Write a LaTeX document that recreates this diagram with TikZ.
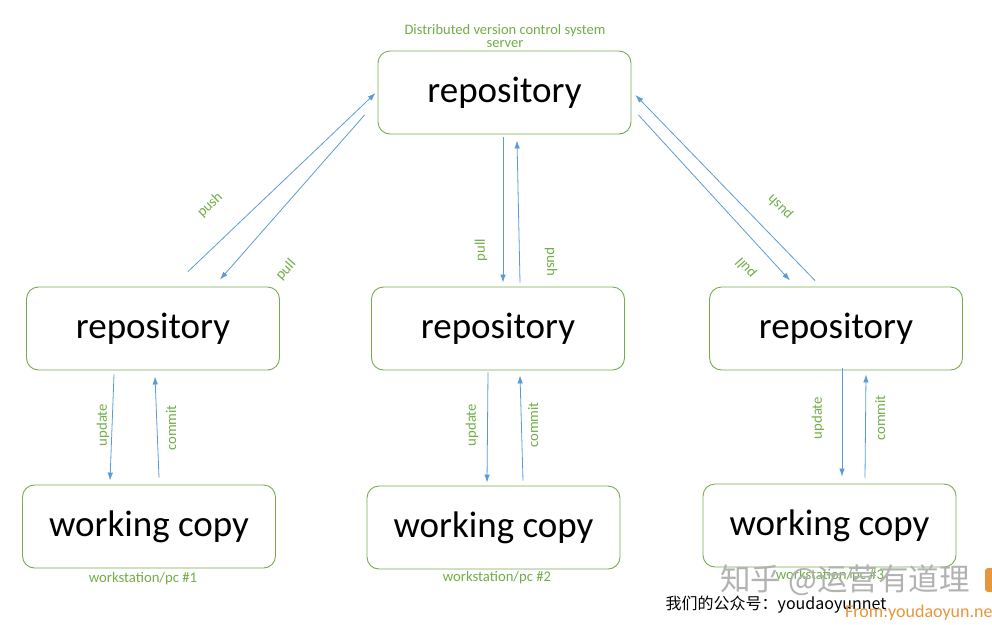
\documentclass[tikz,border=0pt]{standalone}
\usepackage{fontspec}
\setmainfont{Carlito}
\newfontfamily\cjkfont{Noto Sans CJK SC}
\usetikzlibrary{arrows.meta,calc}
\definecolor{boxgreen}{RGB}{120,170,80}
\definecolor{lblgreen}{RGB}{112,173,71}
\definecolor{arrblue}{RGB}{91,155,213}
\definecolor{wmorange}{RGB}{230,150,60}
\tikzset{
  box/.style={draw=boxgreen, line width=0.9pt, rounded corners=12pt, minimum width=253pt, minimum height=83pt, inner sep=0pt, text height=26pt, text depth=6pt, font=\fontsize{37}{40}\selectfont},
  lbl/.style={text=lblgreen, font=\fontsize{14.7}{15}\selectfont, inner sep=0pt},
  arr/.style={draw=arrblue, line width=0.8pt, -{Latex[length=8pt,width=5.5pt]}}
}
\begin{document}
\begin{tikzpicture}[x=1pt,y=-1pt]
\useasboundingbox (0,0) rectangle (992,624);
% boxes
\node[box] (T) at (504.5,92.5) {repository};
\node[box] (L) at (153,328.5) {repository};
\node[box] (M) at (498,328.5) {repository};
\node[box] (R) at (836,328.5) {repository};
\node[box] (LW) at (149,526.5) {working copy};
\node[box] (MW) at (493.5,527.5) {working copy};
\node[box] (RW) at (829.5,525.5) {working copy};
% captions
\node[lbl, align=center, font=\fontsize{14.5}{13}\selectfont] (cap) at (505,36) {Distributed version control system\\server};
\node[lbl] (w1) at (143,579) {workstation/pc \#1};
\node[lbl] (w2) at (497,578) {workstation/pc \#2};
\node[lbl] (w3) at (830,576) {workstation/pc \#3};
% top <-> left
\draw[arr] ($(L.north)+(35,-15)$) -- ($(T.west)+(-2,0.5)$);
\draw[arr] ($(T.west)+(-13,22.5)$) -- ($(L.north)+(67,-7)$);
\node[lbl, rotate=44] (lpush) at (210,205) {push};
\node[lbl, rotate=48] (lpull) at (286,270) {pull};
% top <-> middle
\draw[arr] ($(T.south)+(-1.5,3)$) -- ($(M.north)+(5,-4)$);
\draw[arr] ($(M.north)+(22,-4)$) -- ($(T.south)+(12.5,6)$);
\node[lbl, rotate=90] (mpull) at (481,250) {pull};
\node[lbl, rotate=-90] (mpush) at (551,262) {push};
% top <-> right
\draw[arr] ($(R.north)+(-21,-6)$) -- ($(T.east)+(4,2.5)$);
\draw[arr] ($(T.east)+(7,22.5)$) -- ($(R.north)+(-46,-6)$);
\node[lbl, rotate=134] (rpush) at (780,207) {push};
\node[lbl, rotate=132] (rpull) at (746,268) {pull};
% left update/commit
\draw[arr] ($(L.south)+(-39,4)$) -- ($(LW.north)+(-39,-4)$);
\draw[arr] ($(LW.north)+(10,-7)$) -- ($(L.south)+(2,6)$);
\node[lbl, rotate=90] (lupd) at (103,425) {update};
\node[lbl, rotate=90] (lcom) at (171,428) {commit};
% middle update/commit
\draw[arr] ($(M.south)+(-10,2)$) -- ($(MW.north)+(-6.5,-3)$);
\draw[arr] ($(MW.north)+(29.5,-5)$) -- ($(M.south)+(22,5)$);
\node[lbl, rotate=90] (mupd) at (472,425) {update};
\node[lbl, rotate=90] (mcom) at (533,425) {commit};
% right update/commit
\draw[arr] ($(R.south)+(6,-2)$) -- ($(RW.north)+(12.5,-7)$);
\draw[arr] ($(RW.north)+(35.5,-6)$) -- ($(R.south)+(30,4)$);
\node[lbl, rotate=90] (rupd) at (818,418) {update};
\node[lbl, rotate=90] (rcom) at (880,418) {commit};
% watermarks
\node[text=black!30, font=\cjkfont\fontsize{30.5}{32}\selectfont, inner sep=0pt] (wm1) at (845,580) {知乎 @运营有道理};
\node[text=black, font=\cjkfont\fontsize{16}{17}\selectfont, inner sep=0pt] (wm2) at (776,605) {我们的公众号：youdaoyunnet};
\node[text=wmorange, font=\fontsize{18}{19}\selectfont, anchor=west, inner sep=0pt] (wm3) at (845,613) {From:youdaoyun.net};
\fill[wmorange, rounded corners=3pt] (985,568) rectangle (998,592);
\end{tikzpicture}
\end{document}
